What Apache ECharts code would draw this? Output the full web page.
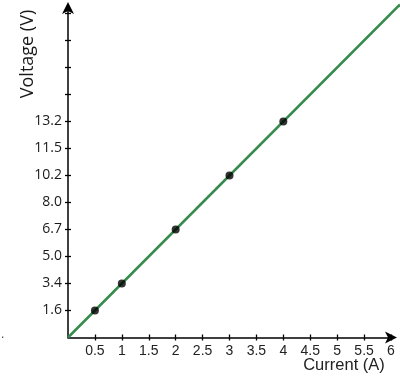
<!DOCTYPE html>
<html>
<head>
<meta charset="utf-8">
<script src="https://cdn.jsdelivr.net/npm/echarts@6/dist/echarts.min.js"></script>
<style>
html,body{margin:0;padding:0;background:#fff;}
#chart{width:400px;height:380px;}
</style>
</head>
<body>
<div id="chart"></div>
<script>
// Data
const current = [0.5, 1, 2, 3, 4];          // A
const voltage = [1.6, 3.4, 6.7, 10.2, 13.2]; // V
const xTicks = [0.5, 1, 1.5, 2, 2.5, 3, 3.5, 4, 4.5, 5, 5.5, 6];
const yTickLabels = ['1.6', '3.4', '5.0', '6.7', '8.0', '10.2', '11.5', '13.2'];
const yTickCount = 12; // evenly spaced tick marks on the voltage axis
const fitLine = [[0, 0], [6.167, 12.334]]; // best-fit line through origin (axis tick units)

const yTickIdx = [];
for (let i = 1; i <= yTickCount; i++) yTickIdx.push(i);
const yLabelIdx = yTickLabels.map((_, i) => i + 1);
const points = current.map((c, i) => [c, yTickLabels.indexOf(voltage[i].toFixed(1)) + 1]);

// grid 0: visible axes; grid 1: same scale, slightly larger box (inner ticks + fit line to edge)
const axisCol = '#000';
const xMax0 = 6, yMax0 = 12.2;
const g0 = { left: 68, right: 9, top: 8, bottom: 42.5 };
const g1 = { left: 68, right: 0, top: 0, bottom: 42.5 };
const W = 400, H = 380;
const xUnit = (W - g0.left - g0.right) / xMax0;
const yUnit = (H - g0.top - g0.bottom) / yMax0;
const xMax1 = (W - g1.left - g1.right) / xUnit;
const yMax1 = (H - g1.top - g1.bottom) / yUnit;

const chart = echarts.init(document.getElementById('chart'), null, { renderer: 'canvas' });
chart.setOption({
  animation: false,
  backgroundColor: '#fff',
  grid: [g0, g1],
  xAxis: [
    {
      gridIndex: 0, type: 'value', min: 0, max: xMax0,
      axisLine: { show: true, onZero: false, symbol: ['none', 'arrow'], symbolSize: [9, 12], symbolOffset: [0, 6],
        lineStyle: { color: axisCol, width: 1.5 } },
      axisTick: { show: true, inside: false, length: 3, customValues: xTicks, lineStyle: { color: axisCol, width: 1.3 } },
      axisLabel: { show: true, customValues: xTicks, margin: 7, fontFamily: 'Liberation Sans, Arial', fontSize: 14, color: '#222',
        formatter: v => String(v) },
      splitLine: { show: false }
    },
    {
      gridIndex: 1, type: 'value', min: 0, max: xMax1,
      axisLine: { show: false, onZero: false },
      axisTick: { show: true, inside: true, length: 3, customValues: xTicks, lineStyle: { color: axisCol, width: 1.3 } },
      axisLabel: { show: false },
      splitLine: { show: false }
    }
  ],
  yAxis: [
    {
      gridIndex: 0, type: 'value', min: 0, max: yMax0,
      axisLine: { show: true, onZero: false, symbol: ['none', 'arrow'], symbolSize: [9, 12], symbolOffset: [0, 6],
        lineStyle: { color: axisCol, width: 1.5 } },
      axisTick: { show: true, inside: false, length: 3, customValues: yTickIdx, lineStyle: { color: axisCol, width: 1.3 } },
      axisLabel: { show: true, customValues: yLabelIdx, margin: 6, fontFamily: 'Open Sans', fontSize: 14, color: '#1a1a1a',
        formatter: v => yTickLabels[Math.round(v) - 1] || '' },
      splitLine: { show: false }
    },
    {
      gridIndex: 1, type: 'value', min: 0, max: yMax1,
      axisLine: { show: false, onZero: false },
      axisTick: { show: true, inside: true, length: 3, customValues: yTickIdx, lineStyle: { color: axisCol, width: 1.3 } },
      axisLabel: { show: false },
      splitLine: { show: false }
    }
  ],
  series: [
    {
      type: 'line', xAxisIndex: 1, yAxisIndex: 1, data: fitLine, showSymbol: false, clip: false,
      lineStyle: { color: '#358a4c', width: 2.5 }, z: 2, silent: true
    },
    {
      type: 'scatter', xAxisIndex: 0, yAxisIndex: 0, data: points, symbolSize: 8,
      itemStyle: { color: '#000' }, z: 3
    }
  ],
  graphic: [
    { type: 'text', x: 28, y: 54, rotation: Math.PI / 2,
      style: { text: 'Voltage (V)', fontFamily: 'Open Sans', fontSize: 18, fill: '#1a1a1a', align: 'center', verticalAlign: 'middle' } },
    { type: 'text', x: 344, y: 365,
      style: { text: 'Current (A)', fontFamily: 'Liberation Sans, Arial', fontSize: 16.5, fill: '#222', align: 'center', verticalAlign: 'middle' } },
    { type: 'text', x: 1, y: 335,
      style: { text: '.', fontFamily: 'Liberation Sans, Arial', fontSize: 12, fill: '#444', align: 'left', verticalAlign: 'middle' } }
  ]
});
</script>
</body>
</html>
